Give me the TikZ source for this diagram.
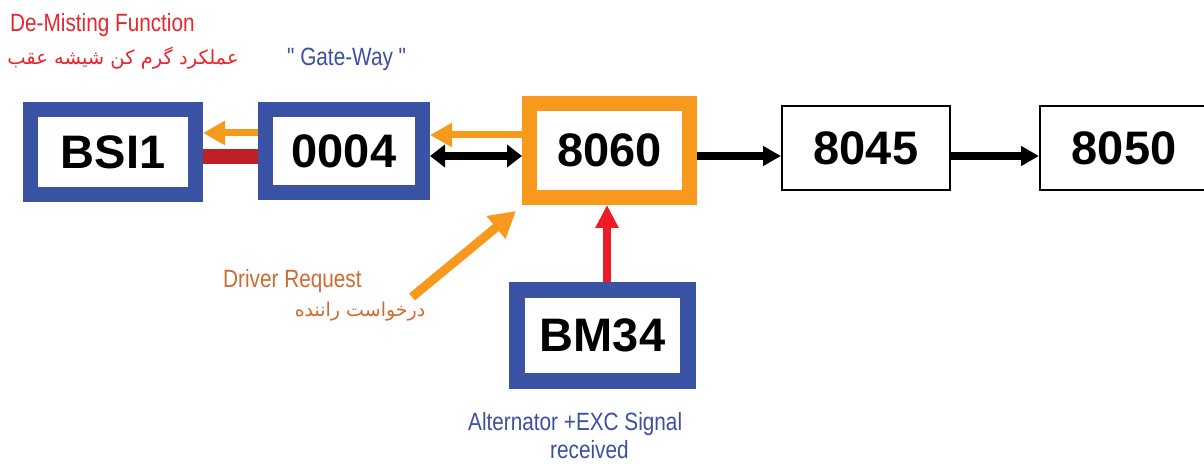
\documentclass[tikz,border=0pt]{standalone}
\usepackage{fontspec}
\setmainfont{Liberation Sans}
\newfontfamily\narrowfont[FakeStretch=0.83]{Liberation Sans}
\newfontfamily\arabicfont[Script=Arabic]{DejaVu Sans}
\TeXXeTstate=1
\usetikzlibrary{arrows.meta,calc}
\definecolor{boxblue}{HTML}{3A53A4}
\definecolor{boxorange}{HTML}{F7991C}
\definecolor{arrowred}{HTML}{ED1C24}
\definecolor{barred}{HTML}{BE2026}
\definecolor{textred}{HTML}{E8262B}
\definecolor{textblue}{HTML}{3C50A2}
\definecolor{textorange}{HTML}{CF6A30}
\tikzset{
  ecu/.style={draw, fill=white, rectangle, inner sep=0pt,
    font=\fontsize{47}{50}\selectfont\bfseries},
  bluebox/.style={ecu, draw=boxblue, line width=15pt},
  label/.style={font=\narrowfont\fontsize{25}{28}\selectfont, inner sep=0pt},
}
\begin{document}
\begin{tikzpicture}[x=1pt, y=1pt]
    \useasboundingbox (0, 0) rectangle (1204, 463);
    % Modules
    \node[bluebox, minimum width=165pt, minimum height=85pt] (BSI) at (113, 311) {BSI1};
    \node[bluebox, minimum width=157pt, minimum height=83pt] (n0004) at (344, 312) {0004};
    \node[ecu, draw=boxorange, line width=15pt, minimum width=160pt, minimum height=94pt] (n8060) at (609.5, 312.5) {8060};
    \node[ecu, line width=2pt, minimum width=168pt, minimum height=84pt] (n8045) at (866, 315) {8045};
    \node[ecu, line width=2pt, minimum width=178pt, minimum height=84pt] (n8050) at (1129, 315) {\hspace*{-10pt}8050};
    \node[ecu, draw=boxblue, line width=16pt, minimum width=171pt, minimum height=91pt] (BM34) at (602.5, 127.5) {BM34};
    % Orange requests to the left
    \draw[boxorange, line width=7pt, -{Triangle[length=22pt, width=23pt]}]
        ([yshift=18pt]n0004.west) -- ([yshift=18pt]n0004.west -| BSI.east);
    \draw[boxorange, line width=7pt, -{Triangle[length=22pt, width=23pt]}]
        ([yshift=15.5pt]n8060.west) -- ([yshift=15.5pt]n8060.west -| n0004.east);
    % Red bar, BSI1 to 0004
    \draw[barred, line width=15pt] ([yshift=-5pt]BSI.east) -- ([yshift=-5pt]BSI.east -| n0004.west);
    % Black links
    \draw[line width=8pt, {Triangle[length=15pt, width=22pt]}-{Triangle[length=15pt, width=22pt]}]
        ([yshift=-5.5pt]n8060.west -| n0004.east) -- ([yshift=-5.5pt]n8060.west);
    \draw[line width=8pt, -{Triangle[length=18pt, width=19pt]}]
        ([yshift=-5.5pt]n8060.east) -- ([yshift=-5.5pt]n8060.east -| n8045.west);
    \draw[line width=8pt, -{Triangle[length=18pt, width=19pt]}]
        ([yshift=-8pt]n8045.east) -- ([yshift=-8pt]n8045.east -| n8050.west);
    % Alternator signal
    \draw[arrowred, line width=8pt, -{Triangle[length=23pt, width=22pt]}]
        ([xshift=4.5pt]BM34.north) -- ([xshift=4.5pt]BM34.north |- n8060.south);
    % Driver request
    \coordinate (req) at (412, 166);
    \draw[boxorange, line width=9pt, -{Triangle[length=26pt, width=28pt]}]
        (req) -- ([shift={(-6pt,-6pt)}]n8060.south west);
    % Texts
    \node[label, textred, anchor=base west] (demist) at (10, 431) {De-Misting Function};
    \node[label, textred, font=\arabicfont\fontsize{19.5}{22}\selectfont] (demistfa) at (123, 405)
        {\beginR عملکرد گرم کن شیشه عقب\endR};
    \node[label, textblue, anchor=base west] (gateway) at (287, 397) {" Gate-Way "};
    \node[label, textorange, anchor=base west] (driver) at (223, 175) {Driver Request};
    \node[label, textorange, font=\arabicfont\fontsize{19}{22}\selectfont] (driverfa) at (360, 151)
        {\beginR درخواست راننده\endR};
    \node[label, textblue, anchor=base west] (alt) at (468, 33) {Alternator +EXC Signal};
    \node[label, textblue, anchor=base west] (received) at (550, 5) {received};
\end{tikzpicture}
\end{document}
